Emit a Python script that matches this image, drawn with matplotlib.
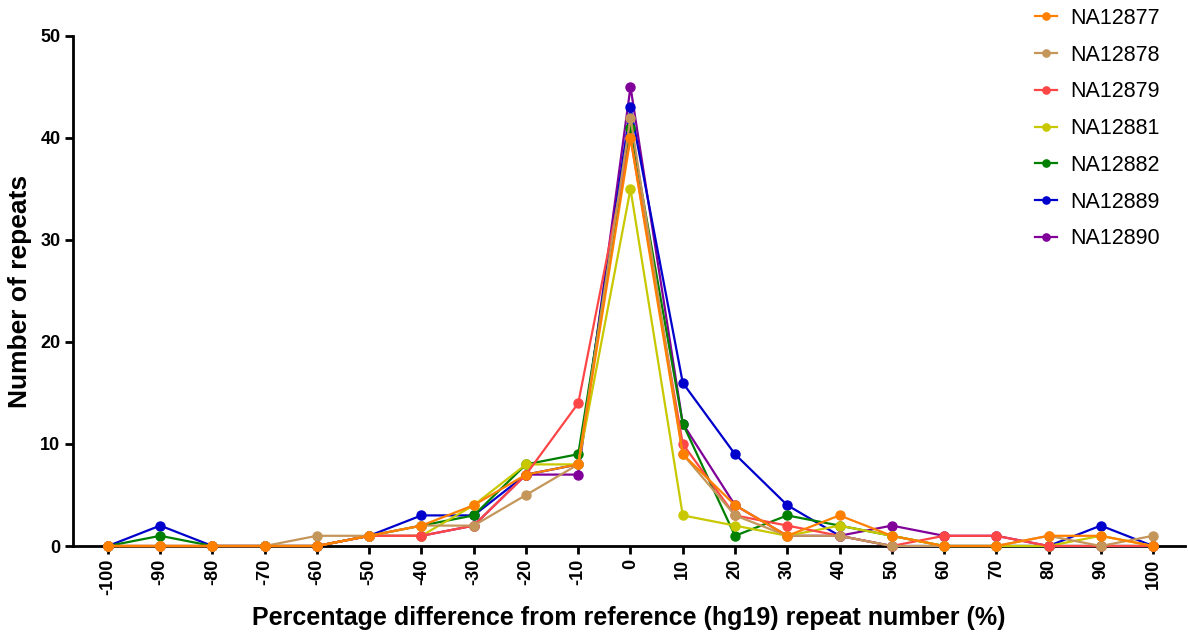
import numpy as np
import matplotlib
matplotlib.use('Agg')
import matplotlib.pyplot as plt

plt.rcParams['font.family'] = ['Liberation Sans', 'DejaVu Sans']

# percentage difference bins
pct = [-100, -90, -80, -70, -60, -50, -40, -30, -20, -10, 0,
       10, 20, 30, 40, 50, 60, 70, 80, 90, 100]

na12877 = [0, 0, 0, 0, 0, 1, 2, 4, 7, 8, 40, 9, 4, 1, 3, 1, 0, 0, 1, 1, 0]
na12878 = [0, 0, 0, 0, 1, 1, 2, 2, 5, 8, 42, 9, 3, 1, 1, 0, 0, 0, 1, 0, 1]
na12879 = [0, 0, 0, 0, 0, 1, 1, 2, 7, 14, 40, 10, 3, 2, 1, 0, 1, 1, 0, 0, 0]
na12881 = [0, 0, 0, 0, 0, 1, 1, 4, 8, 8, 35, 3, 2, 1, 2, 1, 0, 0, 0, 1, 0]
na12882 = [0, 1, 0, 0, 0, 1, 2, 3, 8, 9, 41, 12, 1, 3, 2, 1, 0, 0, 0, 0, 0]
na12889 = [0, 2, 0, 0, 0, 1, 3, 3, 7, 8, 43, 16, 9, 4, 1, 0, 0, 0, 0, 2, 0]
na12890 = [0, 0, 0, 0, 0, 1, 1, 2, 7, 7, 45, 12, 4, 1, 1, 2, 1, 1, 0, 0, 0]

samples = ['NA12877', 'NA12878', 'NA12879', 'NA12881', 'NA12882', 'NA12889', 'NA12890']
series = [na12877, na12878, na12879, na12881, na12882, na12889, na12890]
colores = ['#ff8000', '#c4965a', '#ff4646', '#c8c800', '#008000', '#0000cc', '#800099']

fig = plt.figure(figsize=(11.88, 6.36), dpi=100)
ax = fig.add_axes([0.0614, 0.1415, 0.936, 0.802])

for i, (nom, y, c) in enumerate(zip(samples, series, colores)):
    ax.plot(pct, y, '-o', color=c, lw=1.6, ms=6.5, label=nom, zorder=10 - i,
            clip_on=False)

ax.set_xlim(-106.7, 106.1)
ax.set_ylim(0, 50)
ax.set_xticks(pct)
ax.set_xticklabels([str(p) for p in pct], rotation=90, fontweight='bold', fontsize=13)
ax.set_yticks([0, 10, 20, 30, 40, 50])
ax.set_yticklabels(['0', '10', '20', '30', '40', '50'], fontweight='bold', fontsize=13)

for s in ['top', 'right']:
    ax.spines[s].set_visible(False)
for s in ['left', 'bottom']:
    ax.spines[s].set_linewidth(2)
ax.tick_params(width=2, length=6, direction='out', pad=3)

ax.set_ylabel('Number of repeats', fontweight='bold', fontsize=19, labelpad=6)
ax.set_xlabel('Percentage difference from reference (hg19) repeat number (%)',
              fontweight='bold', fontsize=18, labelpad=8)

fig.legend(loc='upper left', bbox_to_anchor=(0.855, 1.018), frameon=False,
           fontsize=15.5, handlelength=1.0, handletextpad=0.65,
           labelspacing=0.73, markerscale=0.8)

fig.savefig('out.png', dpi=100)
